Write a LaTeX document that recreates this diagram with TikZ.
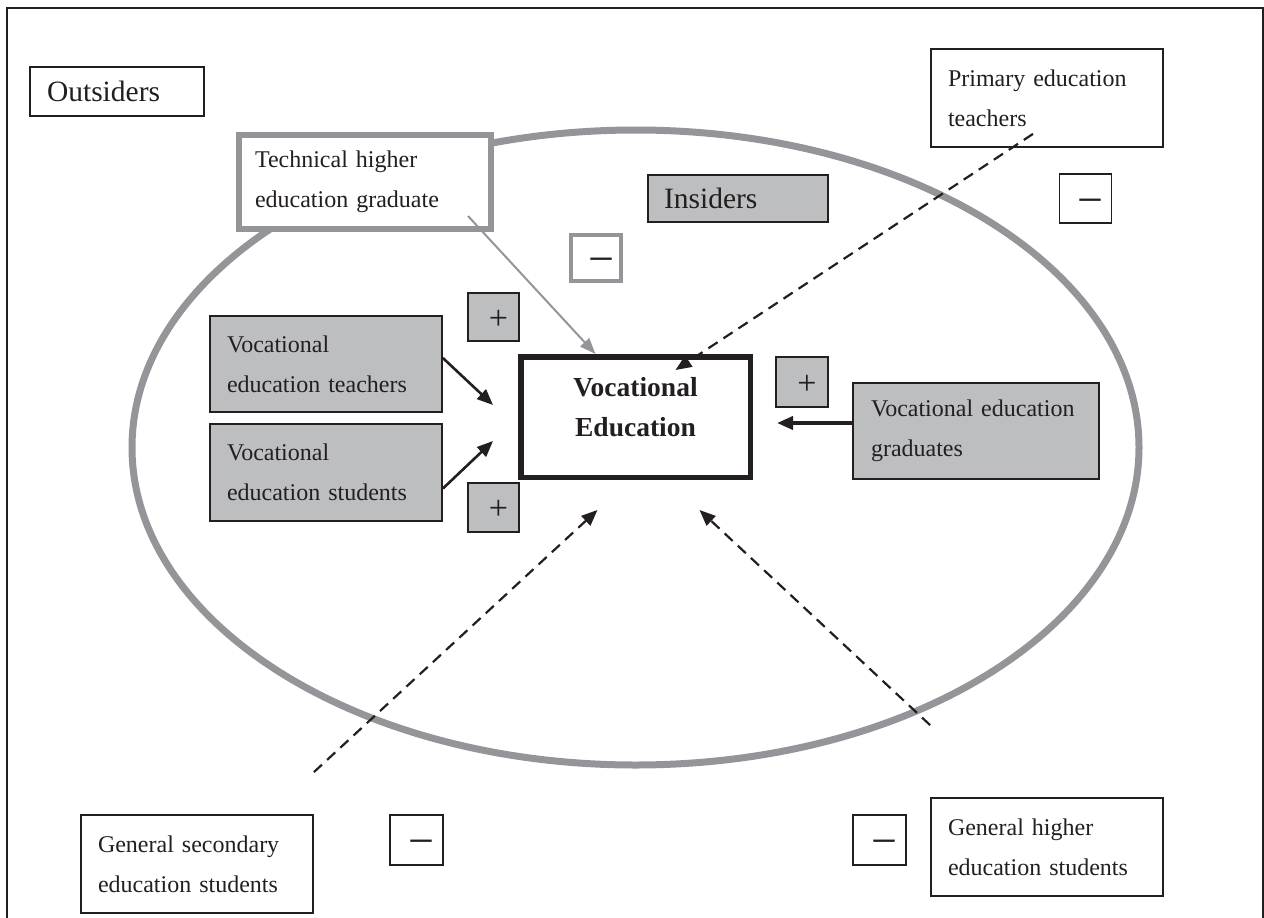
\documentclass[tikz,border=0pt]{standalone}
\usepackage{fontspec}
\setmainfont{Liberation Serif}
\usetikzlibrary{arrows.meta}
\definecolor{ink}{HTML}{231F20}
\definecolor{ringgray}{HTML}{939598}
\definecolor{boxgray}{HTML}{BCBEC0}

% a sign glyph centred on the node centre, nudged a little to the right
\newcommand{\signglyph}[1]{\smash{\raisebox{-0.36em}{\hspace{10pt}#1}}}

\begin{document}
\begin{tikzpicture}[x=1pt,y=-1pt,
  tbox/.style={draw=ink, line width=1.8pt, fill=white, inner xsep=17pt, inner ysep=0pt,
    align=left, text=ink, font=\fontsize{24}{40}\selectfont},
  graybox/.style={tbox, fill=boxgray},
  signbox/.style={draw=ink, line width=1.8pt, fill=white, inner sep=0pt,
    minimum width=52pt, minimum height=49pt, text=ink},
  plusbox/.style={signbox, fill=boxgray, font=\fontsize{34}{34}\selectfont},
  minusbox/.style={signbox, font=\fontsize{46}{46}\selectfont},
  solidarrow/.style={draw=ink, line width=2.6pt, -{Triangle[length=16pt,width=13pt]}},
  dasharrow/.style={draw=ink, line width=2.2pt, dash pattern=on 11pt off 7pt,
    -{Triangle[length=16pt,width=13pt]}},
  graylink/.style={draw=ringgray, line width=2pt, -{Triangle[length=16pt,width=12pt]}},
]
\useasboundingbox (0,0) rectangle (1264,918);
\clip (0,0) rectangle (1264,918);

% outer frame
\draw[ink, line width=2pt] (7,930) -- (7,8) -- (1263,8) -- (1263,930);

% insiders ring
\draw[ringgray, line width=7pt] (635.5,447.5) ellipse [x radius=503.5, y radius=317.5];

% labels of the two groups
\node[tbox, text width=140pt, minimum height=49pt, font=\fontsize{29.5}{36}\selectfont]
  (outsiders) at (117,91.5) {Outsiders};
\node[graybox, inner xsep=16pt, text width=148pt, minimum height=47pt, font=\fontsize{29.5}{36}\selectfont]
  (insiders) at (738,198.5) {Insiders};

% stakeholder boxes
\node[tbox, draw=ringgray, line width=6pt, inner xsep=16pt, text width=220pt, minimum height=94pt]
  (technical) at (365,182) {Technical higher\\education graduate};
\node[tbox, text width=198pt, minimum height=98pt]
  (primary) at (1047,98) {Primary education\\teachers};
\node[graybox, text width=198pt, minimum height=96pt]
  (teachers) at (326,364) {Vocational\\education teachers};
\node[graybox, text width=198pt, minimum height=97pt]
  (students) at (326,472.5) {Vocational\\education students};
\node[graybox, inner xsep=18pt, text width=210pt, minimum height=96pt]
  (graduates) at (976,431) {Vocational education\\graduates};
\node[tbox, text width=198pt, minimum height=98pt]
  (secondary) at (197,864) {General secondary\\education students};
\node[tbox, text width=198pt, minimum height=98pt]
  (higher) at (1047,847) {General higher\\education students};

% central box
\node[draw=ink, line width=5.5pt, fill=white, minimum width=229.5pt, minimum height=120.5pt, inner sep=0pt]
  (ve) at (635.5,417) {};
\node[text=ink, align=center, font=\fontsize{27.5}{40}\selectfont\bfseries, inner sep=0pt]
  (vetext) at (635.5,407) {Vocational\\Education};

% signs
\node[minusbox] (mtop) at (1085.5,198.5) {\signglyph{−}};
\node[minusbox, draw=ringgray, line width=4pt, minimum width=50pt, minimum height=46pt]
  (mgray) at (596,258) {\signglyph{−}};
\node[plusbox, minimum width=51pt, minimum height=48pt] (pa) at (493.5,317) {\signglyph{+}};
\node[plusbox, minimum width=51pt, minimum height=49pt] (pb) at (493.5,507.5) {\signglyph{+}};
\node[plusbox, minimum height=50pt] (pc) at (802,382) {\signglyph{+}};
\node[minusbox, minimum width=53pt, minimum height=50pt] (mbl) at (416.5,840) {\signglyph{−}};
\node[minusbox, minimum width=53pt, minimum height=50pt] (mbr) at (879.5,840) {\signglyph{−}};

% influences on vocational education
\draw[graylink] ([xshift=103pt,yshift=-34pt]technical.center) -- ([xshift=-40pt]ve.north);
\draw[dasharrow] ([xshift=-14pt,yshift=14pt]primary.south) -- ([xshift=40pt,yshift=-16pt]ve.north);
\draw[solidarrow] ([yshift=6pt]teachers.east) -- ([xshift=-25pt,yshift=12pt]ve.west);
\draw[solidarrow] ([yshift=-16pt]students.east) -- ([xshift=-25pt,yshift=-24pt]ve.west);
\draw[solidarrow, line width=3.6pt] ([yshift=8pt]graduates.west) -- ([xshift=24pt,yshift=-6pt]ve.east);
\draw[dasharrow] ([yshift=42pt]secondary.north east) -- ([xshift=-38pt,yshift=-30pt]ve.south);
\draw[dasharrow] ([yshift=72pt]higher.north west) -- ([xshift=64pt,yshift=-30pt]ve.south);
\end{tikzpicture}
\end{document}
